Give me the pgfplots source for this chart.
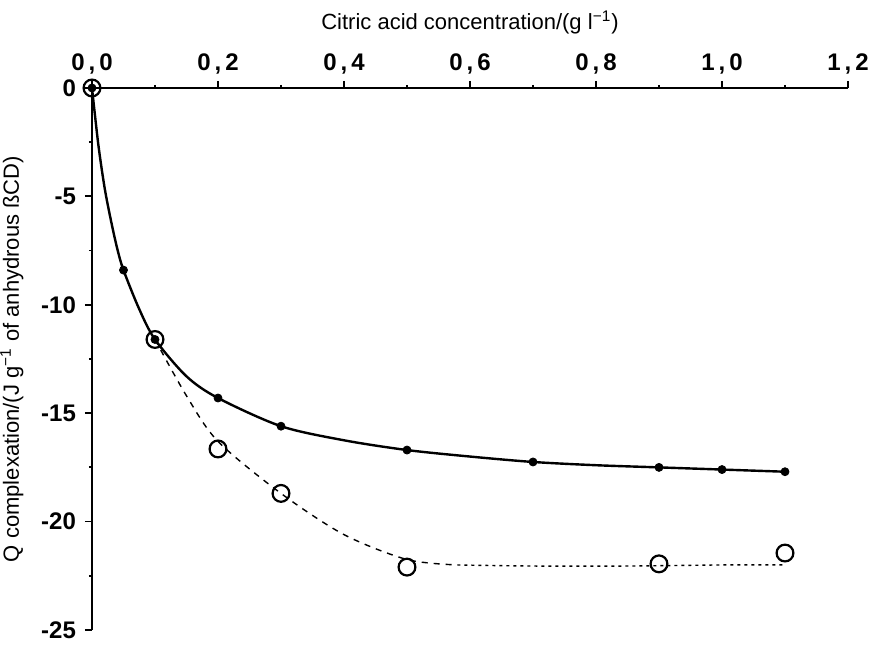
\documentclass[border=0pt]{standalone}
\usepackage{pgfplots}
\pgfplotsset{compat=1.18}
\usepackage{fontspec}
\setmainfont{Liberation Sans}

% filled points: Q complexation vs citric acid
\pgfplotstableread{
x y
0.00 0.0
0.05 -8.4
0.10 -11.6
0.20 -14.3
0.30 -15.6
0.50 -16.7
0.70 -17.25
0.90 -17.5
1.00 -17.6
1.10 -17.7
}\filled
% open points
\pgfplotstableread{
x y
0.00 0.0
0.10 -11.6
0.20 -16.65
0.30 -18.7
0.50 -22.1
0.90 -21.95
1.10 -21.45
}\open

\begin{document}
\begin{tikzpicture}
\begin{axis}[
    name=ax,
    scale only axis,
    width=378pt, height=271pt,
    xmin=0, xmax=1.2, ymin=-25, ymax=0,
    axis x line*=top, axis y line*=left,
    axis line style={line width=1.1pt},
    tick style={line width=0.9pt, black},
    tick align=outside,
    major tick length=3.5pt, minor tick length=1.5pt,
    xtick={0,0.2,...,1.2}, minor x tick num=1,
    xticklabels={{0\,,\,0}, {0\,,\,2}, {0\,,\,4}, {0\,,\,6}, {0\,,\,8}, {1\,,\,0}, {1\,,\,2}},
    ytick={0,-5,-10,-15,-20,-25}, minor y tick num=1,
    /pgf/number format/assume math mode=true,
    tick label style={font=\bfseries\fontsize{12}{14}\selectfont},
    yticklabel style={xshift=-1pt},
    xlabel={Citric acid concentration/(g l\textsuperscript{−1})},
    ylabel={Q complexation/(J g\textsuperscript{−1} of anhydrous ßCD)},
    label style={font=\fontsize{11}{13}\selectfont},
    xlabel style={yshift=3pt},
    ylabel style={yshift=2pt},
    clip=false,
]
% fitted solid curve
\addplot[black, line width=1.2pt, smooth, tension=0.5] coordinates {
    (0,0) (0.01,-2.6) (0.02,-4.6) (0.03,-6.1) (0.04,-7.4) (0.05,-8.4)
    (0.075,-10.2) (0.10,-11.6) (0.15,-13.3) (0.20,-14.3) (0.30,-15.6)
    (0.40,-16.25) (0.50,-16.7) (0.60,-17.0) (0.70,-17.25) (0.80,-17.4)
    (0.90,-17.5) (1.00,-17.6) (1.10,-17.7)
};
% dashed curve through open points
\addplot[black, line width=0.7pt, dash pattern=on 3pt off 3pt, smooth] coordinates {
    (0.10,-11.6) (0.15,-14.2) (0.20,-16.3) (0.30,-18.7) (0.40,-20.6)
    (0.50,-21.75) (0.58,-22.0)
};
\addplot[black, line width=0.7pt, dash pattern=on 1.5pt off 2pt, smooth] coordinates {
    (0.58,-22.0) (0.70,-22.05) (0.85,-22.05) (1.00,-22.0) (1.10,-22.0)
};
\addplot[only marks, mark=*, mark size=2pt, black] table[x=x, y=y] {\filled};
\addplot[only marks, mark=o, mark size=4.2pt, line width=1.1pt, black] table[x=x, y=y] {\open};
\end{axis}
\pgfresetboundingbox
\path ([shift={(-46pt,-8pt)}]ax.south west) rectangle ([shift={(10.5pt,44pt)}]ax.north east);
\end{tikzpicture}
\end{document}
